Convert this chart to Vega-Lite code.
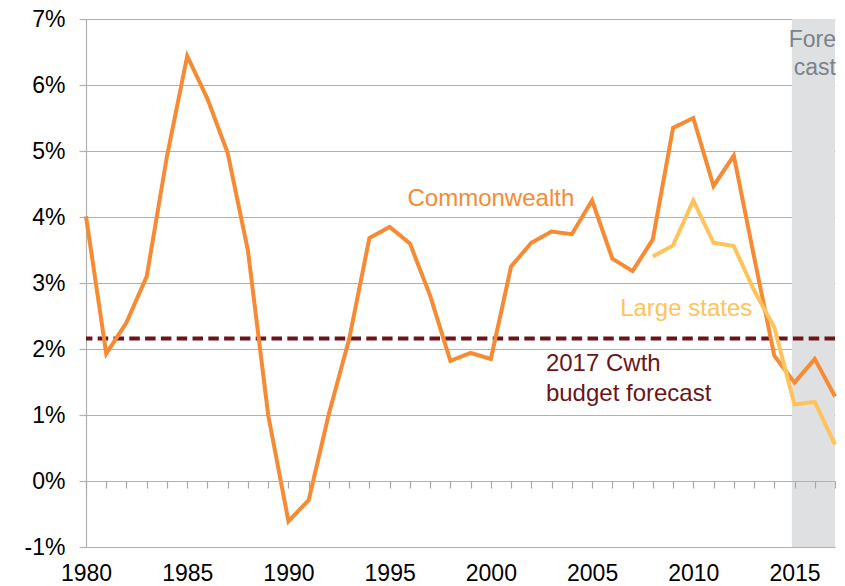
{
  "$schema": "https://vega.github.io/schema/vega-lite/v6.json",
  "width": 749,
  "height": 528,
  "autosize": {"type": "none"},
  "padding": {"left": 86, "top": 19, "right": 10, "bottom": 39},
  "background": "white",
  "config": {
    "view": {"stroke": null},
    "font": "Liberation Sans",
    "axis": {"labelFont": "Liberation Sans", "labelColor": "#000000", "labelFontSize": 23}
  },
  "datasets": {
    "series": [
      {"year": 1980, "value": 4.01, "series": "Commonwealth"},
      {"year": 1981, "value": 1.93, "series": "Commonwealth"},
      {"year": 1982, "value": 2.40, "series": "Commonwealth"},
      {"year": 1983, "value": 3.10, "series": "Commonwealth"},
      {"year": 1984, "value": 4.92, "series": "Commonwealth"},
      {"year": 1985, "value": 6.44, "series": "Commonwealth"},
      {"year": 1986, "value": 5.79, "series": "Commonwealth"},
      {"year": 1987, "value": 4.97, "series": "Commonwealth"},
      {"year": 1988, "value": 3.49, "series": "Commonwealth"},
      {"year": 1989, "value": 1.00, "series": "Commonwealth"},
      {"year": 1990, "value": -0.61, "series": "Commonwealth"},
      {"year": 1991, "value": -0.29, "series": "Commonwealth"},
      {"year": 1992, "value": 1.02, "series": "Commonwealth"},
      {"year": 1993, "value": 2.15, "series": "Commonwealth"},
      {"year": 1994, "value": 3.68, "series": "Commonwealth"},
      {"year": 1995, "value": 3.85, "series": "Commonwealth"},
      {"year": 1996, "value": 3.60, "series": "Commonwealth"},
      {"year": 1997, "value": 2.81, "series": "Commonwealth"},
      {"year": 1998, "value": 1.82, "series": "Commonwealth"},
      {"year": 1999, "value": 1.94, "series": "Commonwealth"},
      {"year": 2000, "value": 1.85, "series": "Commonwealth"},
      {"year": 2001, "value": 3.25, "series": "Commonwealth"},
      {"year": 2002, "value": 3.61, "series": "Commonwealth"},
      {"year": 2003, "value": 3.78, "series": "Commonwealth"},
      {"year": 2004, "value": 3.74, "series": "Commonwealth"},
      {"year": 2005, "value": 4.25, "series": "Commonwealth"},
      {"year": 2006, "value": 3.37, "series": "Commonwealth"},
      {"year": 2007, "value": 3.18, "series": "Commonwealth"},
      {"year": 2008, "value": 3.66, "series": "Commonwealth"},
      {"year": 2009, "value": 5.35, "series": "Commonwealth"},
      {"year": 2010, "value": 5.50, "series": "Commonwealth"},
      {"year": 2011, "value": 4.47, "series": "Commonwealth"},
      {"year": 2012, "value": 4.93, "series": "Commonwealth"},
      {"year": 2013, "value": 3.40, "series": "Commonwealth"},
      {"year": 2014, "value": 1.90, "series": "Commonwealth"},
      {"year": 2015, "value": 1.49, "series": "Commonwealth"},
      {"year": 2016, "value": 1.85, "series": "Commonwealth"},
      {"year": 2017, "value": 1.28, "series": "Commonwealth"},
      {"year": 2008, "value": 3.40, "series": "Large states"},
      {"year": 2009, "value": 3.57, "series": "Large states"},
      {"year": 2010, "value": 4.25, "series": "Large states"},
      {"year": 2011, "value": 3.61, "series": "Large states"},
      {"year": 2012, "value": 3.56, "series": "Large states"},
      {"year": 2013, "value": 2.89, "series": "Large states"},
      {"year": 2014, "value": 2.33, "series": "Large states"},
      {"year": 2015, "value": 1.16, "series": "Large states"},
      {"year": 2016, "value": 1.20, "series": "Large states"},
      {"year": 2017, "value": 0.55, "series": "Large states"}
    ]
  },
  "layer": [
    {
      "data": {"values": [{"start": 2014.87, "end": 2017, "low": -1, "high": 7}]},
      "mark": {"type": "rect", "color": "#dfe0e2"},
      "encoding": {
        "x": {"field": "start", "type": "quantitative", "scale": {"domain": [1980, 2017], "nice": false, "zero": false},
          "axis": {"values": [1980,1981,1982,1983,1984,1985,1986,1987,1988,1989,1990,1991,1992,1993,1994,1995,1996,1997,1998,1999,2000,2001,2002,2003,2004,2005,2006,2007,2008,2009,2010,2011,2012,2013,2014,2015,2016,2017],
            "tickCount": 40,
            "labelExpr": "datum.value % 5 === 0 ? '' + datum.value : ''",
            "labelOverlap": false, "labelBound": false,
            "title": null, "grid": false, "offset": -66, "domain": true, "domainColor": "#b0b0b0", "domainWidth": 1.2,
            "ticks": true, "tickColor": "#a8a8a8", "tickSize": 7, "tickWidth": 1.2, "labelPadding": 74, "zindex": 1, "labelFlush": false}},
        "x2": {"field": "end"},
        "y": {"field": "low", "type": "quantitative", "scale": {"domain": [-1, 7], "nice": false, "zero": false},
          "axis": {"values": [-1,0,1,2,3,4,5,6,7], "labelExpr": "datum.value + '%'", "title": null, "labelOverlap": false,
            "grid": true, "gridColor": "#b0b0b0", "gridWidth": 1.2, "domain": true, "domainColor": "#b0b0b0", "domainWidth": 1.2,
            "ticks": true, "tickColor": "#b0b0b0", "tickSize": 7, "tickWidth": 1.2, "labelPadding": 14}},
        "y2": {"field": "high"}
      }
    },
    {
      "data": {"values": [{"forecast": 2.16}]},
      "mark": {"type": "rule", "color": "#6b1519", "strokeWidth": 4, "strokeDash": [10.5, 5.3]},
      "encoding": {"y": {"field": "forecast", "type": "quantitative"}}
    },
    {
      "data": {"name": "series"},
      "mark": {"type": "line", "strokeWidth": 4, "strokeJoin": "miter"},
      "encoding": {
        "x": {"field": "year", "type": "quantitative"},
        "y": {"field": "value", "type": "quantitative"},
        "color": {"field": "series", "type": "nominal", "scale": {"domain": ["Commonwealth", "Large states"], "range": ["#f68b33", "#ffc35b"]}, "legend": null},
        "order": {"field": "year"}
      }
    },
    {
      "data": {"values": [{"year": 2000.0, "value": 4.16, "label": "Commonwealth"}]},
      "mark": {"type": "text", "color": "#f68b33", "fontSize": 24, "align": "center", "baseline": "alphabetic"},
      "encoding": {"x": {"field": "year", "type": "quantitative"}, "y": {"field": "value", "type": "quantitative"}, "text": {"field": "label"}}
    },
    {
      "data": {"values": [{"year": 2009.65, "value": 2.50, "label": "Large states"}]},
      "mark": {"type": "text", "color": "#ffc35b", "fontSize": 24, "align": "center", "baseline": "alphabetic"},
      "encoding": {"x": {"field": "year", "type": "quantitative"}, "y": {"field": "value", "type": "quantitative"}, "text": {"field": "label"}}
    },
    {
      "data": {"values": [{"year": 2002.72, "value": 1.66, "label": ["2017 Cwth", "budget forecast"]}]},
      "mark": {"type": "text", "color": "#6b1519", "fontSize": 24, "align": "left", "baseline": "alphabetic", "lineHeight": 30},
      "encoding": {"x": {"field": "year", "type": "quantitative"}, "y": {"field": "value", "type": "quantitative"}, "text": {"field": "label"}}
    },
    {
      "data": {"values": [{"year": 2017.05, "value": 6.58, "label": ["Fore", "cast"]}]},
      "mark": {"type": "text", "color": "#7a838c", "fontSize": 23, "align": "right", "baseline": "alphabetic", "lineHeight": 28},
      "encoding": {"x": {"field": "year", "type": "quantitative"}, "y": {"field": "value", "type": "quantitative"}, "text": {"field": "label"}}
    }
  ]
}
